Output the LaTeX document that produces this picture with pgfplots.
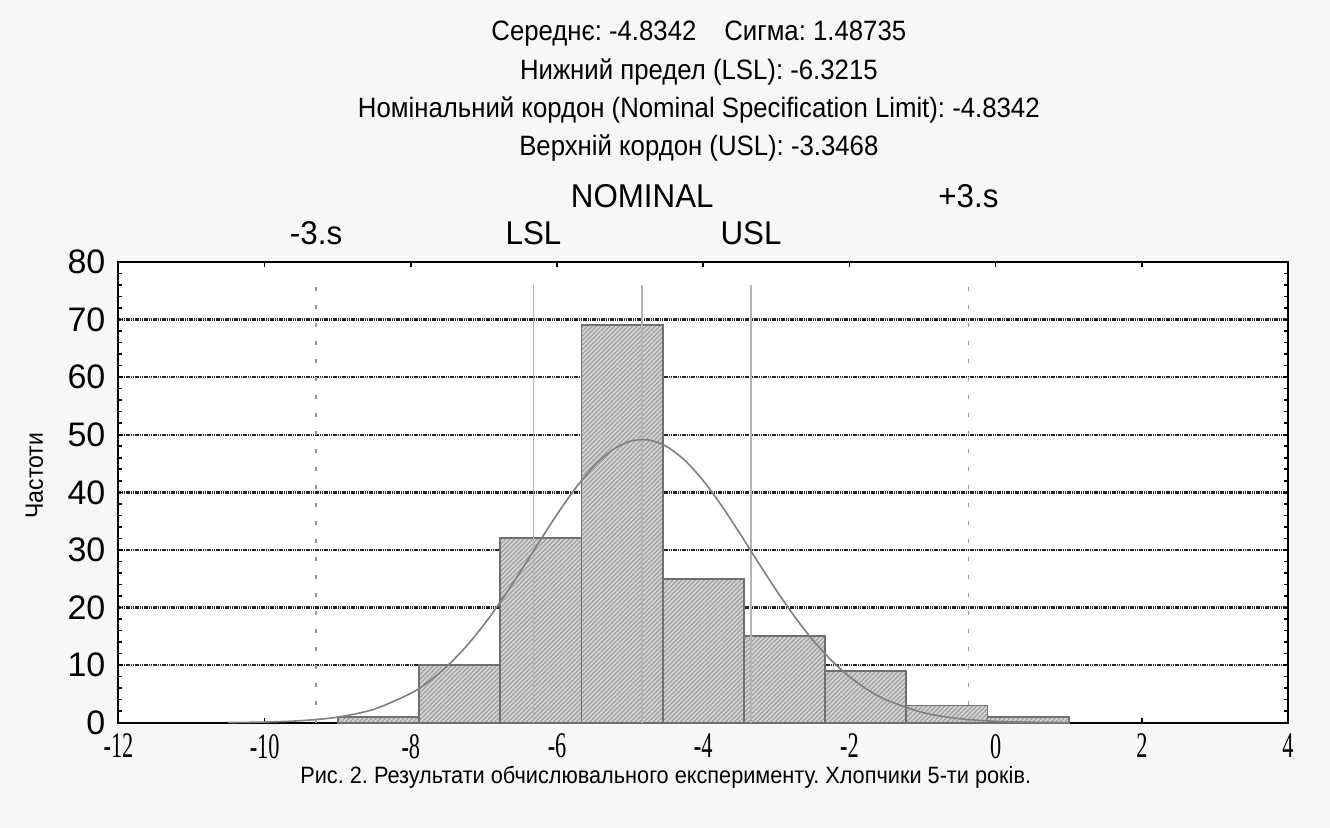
\documentclass[border=0pt]{standalone}
\usepackage{fontspec}
\setmainfont{Liberation Sans}
\newfontfamily\txt{Liberation Sans}[FakeStretch=0.92]
\newfontfamily\lab{Liberation Sans}[FakeStretch=0.95]
\newfontfamily\serifc{Liberation Serif}[FakeStretch=0.62]
\usepackage{pgfplots}
\pgfplotsset{compat=1.18}
\usetikzlibrary{patterns.meta}
\definecolor{bgc}{HTML}{F7F7F7}
\definecolor{barfill}{HTML}{D0D0D0}
\definecolor{baredge}{HTML}{707070}
\definecolor{curvec}{HTML}{808080}
\definecolor{speclc}{HTML}{B4B4B4}
\frenchspacing
\begin{document}
\begin{tikzpicture}
\fill[bgc] (-59.25pt,-52.5pt) rectangle (606pt,361.5pt);
\begin{axis}[
  scale only axis, width=585pt, height=230.5pt,
  xmin=-12, xmax=4, ymin=0, ymax=80,
  clip=false,
  axis background/.style={fill=white},
  axis line style={black, line width=1pt},
  xtick={-12,-10,...,4},
  ytick={0,10,...,80},
  minor y tick num=4,
  tick align=inside,
  xtick pos=both, ytick pos=both,
  xticklabel pos=lower, yticklabel pos=left,
  major tick length=2.5pt, minor tick length=2pt,
  tick style={black, line width=0.8pt},
  ymajorgrids,
  major grid style={black!85, line width=1.2pt, dash pattern=on 0.6pt off 0.3pt},
  /pgf/number format/assume math mode=true,
  xticklabel style={font=\serifc\fontsize{18}{18}\selectfont, inner sep=0pt, yshift=-5.5pt},
  yticklabel style={font=\fontsize{17}{17}\selectfont, xshift=-3pt},
]
% histogram
\addplot[ybar interval, draw=baredge, line width=0.9pt, fill=barfill,
  postaction={pattern={Lines[angle=45,distance=1.6pt,line width=0.45pt]}, pattern color=black!40}]
  coordinates {(-9,1) (-7.8889,10) (-6.7778,32) (-5.6667,69) (-4.5556,25) (-3.4444,15) (-2.3333,9) (-1.2222,3) (-0.1111,1) (1,1)};
% +-3 sigma lines
\addplot[curvec!80, line width=0.8pt, dash pattern=on 2pt off 7pt] coordinates {(-9.2963,0) (-9.2963,76)};
\addplot[curvec!80, line width=0.8pt, dash pattern=on 2pt off 7pt] coordinates {(-0.3721,0) (-0.3721,76)};
% LSL, nominal, USL
\addplot[speclc, line width=0.9pt] coordinates {(-6.3215,0) (-6.3215,76)};
\addplot[speclc, line width=0.9pt] coordinates {(-4.8342,0) (-4.8342,76)};
\addplot[speclc, line width=0.9pt] coordinates {(-3.3468,0) (-3.3468,76)};
% normal curve
\addplot[smooth, curvec, line width=0.8pt] coordinates {
(-10.5,0.035) (-10,0.118) (-9.5,0.359) (-9,0.973) (-8.5,2.358) (-8,5.104) (-7.75,7.197) (-7.5,9.868)
(-7.25,13.15) (-7,17.03) (-6.75,21.45) (-6.5,26.26) (-6.25,31.26) (-6,36.17) (-5.75,40.68) (-5.5,44.48)
(-5.25,47.29) (-5,48.87) (-4.75,49.09) (-4.5,47.94) (-4.25,45.52) (-4,42.02) (-3.75,37.70) (-3.5,32.88)
(-3.25,27.88) (-3,22.99) (-2.75,18.42) (-2.5,14.35) (-2.25,10.87) (-2,8.00) (-1.75,5.728) (-1.5,3.98) (-1,1.773)
(-0.5,0.704) (0,0.250) (0.5,0.079) (1,0.022)};
% labels
\node[font=\lab\fontsize{16.5}{16.5}\selectfont] at (axis cs:-9.2963,85) {-3.s};
\node[font=\lab\fontsize{16.5}{16.5}\selectfont] at (axis cs:-6.3215,85) {LSL};
\node[font=\lab\fontsize{16.5}{16.5}\selectfont] at (axis cs:-3.3468,85) {USL};
\node[font=\lab\fontsize{16.5}{16.5}\selectfont] at (axis cs:-4.8342,91.5) {NOMINAL};
\node[font=\lab\fontsize{16.5}{16.5}\selectfont] at (axis cs:-0.3721,91.5) {+3.s};
% header
\node[font=\txt\fontsize{14}{14}\selectfont] at (axis cs:-4.06,119.7) {Середнє: -4.8342\quad Сигма: 1.48735};
\node[font=\txt\fontsize{14}{14}\selectfont] at (axis cs:-4.06,113.0) {Нижний предел (LSL): -6.3215};
\node[font=\txt\fontsize{14}{14}\selectfont] at (axis cs:-4.06,106.4) {Номінальний кордон (Nominal Specification Limit): -4.8342};
\node[font=\txt\fontsize{14}{14}\selectfont] at (axis cs:-4.06,99.8) {Верхній кордон (USL): -3.3468};
% y label
\node[font=\txt\fontsize{12.5}{12.5}\selectfont, rotate=90] at (axis cs:-13.15,42.9) {Частоти};
% caption
\node[font=\txt\fontsize{11.8}{11.8}\selectfont, inner sep=0pt] at (axis cs:-4.513,-9.4) {Рис. 2. Результати обчислювального експерименту. Хлопчики 5-ти років.};
\end{axis}
\end{tikzpicture}
\end{document}
